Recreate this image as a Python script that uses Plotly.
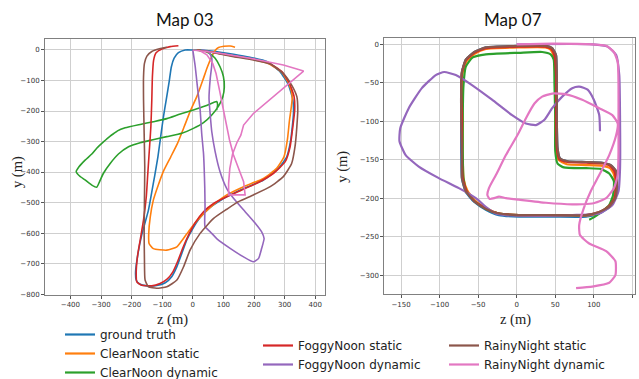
import plotly.graph_objects as go

# ---------------- data: Map 03 (z, y in metres) ----------------
m03_gt_z = [0,-25,-47,-61,-70,-78,-87,-96,-105,-114,-125,-134,-145,-167,-178,-187,-185,-174,-150,-118,-90,-69,-52,-36,-20,0,24,57,95,133,176,231,280,307,320,329,327,313,285,242,187,133,68,24,0]
m03_gt_y = [0,0,-9,-27,-55,-109,-164,-219,-284,-350,-415,-465,-525,-607,-661,-727,-754,-767,-773,-772,-763,-743,-710,-667,-623,-585,-549,-516,-490,-470,-450,-426,-388,-350,-295,-208,-164,-115,-71,-38,-24,-14,-4,0,0]

m03_cs_z = [138,122,102,84,73,62,48,33,13,-7,-28,-50,-72,-94,-113,-129,-139,-144,-143,-129,-85,-52,-20,13,57,111,166,231,274,298,309,316,322,325,316,291,247,198,133,68,13]
m03_cs_y = [9,13,12,8,-2,-22,-55,-98,-153,-197,-251,-306,-350,-393,-443,-492,-547,-601,-634,-651,-656,-645,-603,-560,-516,-475,-448,-421,-388,-350,-295,-230,-186,-153,-115,-74,-44,-31,-20,-8,0]

m03_cd_z = [0,29,54,73,89,100,103,98,84,62,35,2,-36,-85,-134,-172,-210,-243,-270,-292,-305,-314,-330,-352,-370,-381,-372,-352,-330,-314,-292,-270,-254,-246,-221,-172,-129,-85,-41,2,40,68,78,81,78]
m03_cd_y = [0,-2,-11,-27,-55,-87,-122,-153,-184,-213,-238,-257,-273,-284,-295,-304,-317,-341,-372,-404,-432,-450,-443,-426,-413,-399,-383,-361,-341,-322,-301,-282,-271,-265,-255,-244,-235,-225,-210,-197,-184,-172,-169,-180,-197]

m03_fs_z = [-47,-74,-101,-120,-128,-132,-134,-137,-142,-147,-152,-161,-172,-181,-185,-183,-167,-134,-107,-85,-65,-50,-33,-14,8,35,68,111,155,209,264,302,318,327,333,331,316,291,247,198,133,68,13]
m03_fs_y = [14,11,3,-9,-33,-87,-164,-251,-328,-404,-481,-557,-623,-678,-732,-760,-771,-773,-765,-752,-727,-694,-650,-607,-566,-530,-503,-481,-461,-437,-404,-366,-317,-251,-197,-153,-109,-71,-42,-30,-19,-8,0]

m03_fd_z = [0,8,15,24,29,35,37,39,40,40,57,78,122,166,198,215,225,233,225,204,171,133,111,89,73,62,57,53,57,62,62,51,29]
m03_fd_y = [0,-55,-120,-197,-273,-339,-383,-448,-514,-579,-596,-618,-650,-678,-694,-683,-650,-618,-596,-568,-530,-486,-454,-399,-333,-268,-213,-158,-93,-49,-27,-5,0]

m03_rs_z = [-85,-109,-134,-150,-158,-161,-161,-159,-157,-158,-159,-158,-156,-145,-118,-85,-52,-30,-9,24,68,111,149,198,253,296,323,334,340,343,340,323,296,253,198,133,68,13]
m03_rs_y = [9,4,-5,-20,-44,-87,-164,-273,-383,-492,-601,-689,-754,-776,-781,-776,-754,-710,-656,-601,-552,-522,-497,-475,-448,-415,-372,-317,-251,-197,-153,-115,-77,-46,-33,-22,-9,0]

m03_rd_z = [0,78,187,296,362,307,242,198,166,157,144,130,121,117,117,171,166,149,133,120,109,98,87,76,65,46,24]
m03_rd_y = [0,-9,-27,-49,-69,-115,-169,-208,-246,-279,-304,-341,-388,-437,-475,-475,-432,-383,-344,-295,-246,-186,-131,-77,-44,-16,-3]

# ---------------- data: Map 07 ----------------
m07_gt_z = [90,46,3,-23,-40,-55,-66,-71,-72,-72,-72,-71,-66,-55,-40,3,38,46,51,52,52,53,56,66,90,111,122,129,130,128,120,107,90]
m07_gt_y = [-224,-224,-224,-222,-215,-205,-192,-175,-139,-96,-57,-36,-20,-10,-4,-2,-2,-5,-14,-40,-96,-135,-148,-152,-153,-154,-157,-165,-183,-200,-212,-220,-224]

m07_cs_z = [95,46,3,-23,-39,-54,-64,-69,-70,-70,-71,-70,-65,-54,-40,3,37,44,48,50,50,51,54,65,90,111,121,126,128,126,119,107,95]
m07_cs_y = [-222,-222,-222,-220,-213,-203,-190,-174,-139,-96,-57,-37,-22,-12,-6,-4,-4,-7,-16,-40,-96,-135,-150,-156,-157,-158,-161,-169,-183,-200,-211,-219,-222]

m07_cd_z = [90,46,3,-23,-40,-55,-65,-69,-70,-70,-69,-66,-57,-40,3,33,44,48,49,50,50,53,61,90,109,120,126,125,120,111,100,94]
m07_cd_y = [-222,-222,-222,-220,-214,-204,-191,-174,-139,-96,-53,-29,-17,-13,-11,-10,-13,-20,-53,-96,-139,-155,-160,-161,-162,-168,-178,-196,-209,-217,-225,-228]

m07_fs_z = [90,46,3,-23,-39,-55,-65,-70,-71,-71,-72,-71,-66,-55,-40,3,37,45,49,51,51,52,55,66,90,111,121,127,129,127,119,107,90]
m07_fs_y = [-222,-222,-222,-220,-214,-204,-191,-174,-139,-96,-57,-36,-21,-11,-5,-3,-3,-6,-15,-40,-96,-135,-149,-153,-154,-155,-158,-166,-183,-200,-211,-218,-222]

m07_fd_z = [0,98,118,129,133,134,134,132,124,107,72,25,-14,-27,-38,-53,-75,-101,-127,-144,-152,-151,-140,-123,-105,-94,-79,-58,-32,-6,12,25,36,46,59,72,81,92,100,107,108]
m07_fd_y = [0,0,-3,-14,-40,-96,-161,-191,-209,-220,-222,-223,-222,-220,-213,-200,-187,-174,-159,-144,-126,-109,-83,-57,-40,-36,-40,-53,-72,-92,-103,-105,-98,-83,-68,-57,-55,-59,-72,-92,-113]

m07_rs_z = [90,46,3,-23,-40,-55,-66,-71,-71,-72,-72,-71,-66,-55,-40,3,38,46,51,52,52,53,56,66,90,111,122,129,130,128,120,107,90]
m07_rs_y = [-222,-222,-222,-220,-214,-204,-191,-174,-139,-96,-57,-36,-20,-10,-4,-2,-2,-5,-14,-40,-96,-135,-148,-152,-153,-154,-157,-165,-183,-200,-211,-218,-222]

m07_rd_z = [0,46,98,116,126,131,132,132,132,131,126,116,98,72,38,3,-14,-23,-29,-35,-38,-36,-27,-14,1,12,23,33,46,64,85,107,124,131,129,120,107,96,87,81,82,94,116,128,128,120,98,77]
m07_rd_y = [0,1,0,-2,-10,-23,-53,-96,-139,-170,-187,-200,-207,-208,-206,-202,-200,-198,-200,-201,-196,-187,-170,-144,-118,-96,-77,-68,-64,-65,-72,-83,-92,-103,-118,-144,-170,-191,-213,-235,-248,-259,-269,-282,-300,-310,-315,-317]

series_names = ["ground truth", "ClearNoon static", "ClearNoon dynamic",
                "FoggyNoon static", "FoggyNoon dynamic",
                "RainyNight static", "RainyNight dynamic"]
series_colors = ["#1f77b4", "#ff7f0e", "#2ca02c", "#d62728", "#9467bd", "#8c564b", "#e377c2"]
series_legend = ["legend", "legend", "legend", "legend2", "legend2", "legend3", "legend3"]

map03 = [(m03_gt_z, m03_gt_y), (m03_cs_z, m03_cs_y), (m03_cd_z, m03_cd_y),
         (m03_fs_z, m03_fs_y), (m03_fd_z, m03_fd_y), (m03_rs_z, m03_rs_y), (m03_rd_z, m03_rd_y)]
map07 = [(m07_gt_z, m07_gt_y), (m07_cs_z, m07_cs_y), (m07_cd_z, m07_cd_y),
         (m07_fs_z, m07_fs_y), (m07_fd_z, m07_fd_y), (m07_rs_z, m07_rs_y), (m07_rd_z, m07_rd_y)]

m03_xticks = [-400, -300, -200, -100, 0, 100, 200, 300, 400]
m03_yticks = [0, -100, -200, -300, -400, -500, -600, -700, -800]
m07_xticks = [-150, -100, -50, 0, 50, 100, 150]
m07_yticks = [0, -50, -100, -150, -200, -250, -300]

W, H = 639, 379

fig = go.Figure()
for i, name in enumerate(series_names):
    z, y = map03[i]
    fig.add_trace(go.Scatter(
        x=z, y=y, mode="lines", name=name, xaxis="x", yaxis="y",
        line=dict(color=series_colors[i], width=1.6,
                  shape="linear" if name == "RainyNight dynamic" else "spline", smoothing=0.5),
        showlegend=False, legendgroup=name, hoverinfo="skip"))
for i, name in enumerate(series_names):
    z, y = map07[i]
    fig.add_trace(go.Scatter(
        x=z, y=y, mode="lines", name=name, xaxis="x2", yaxis="y2",
        line=dict(color=series_colors[i], width=2.2, shape="spline", smoothing=0.5),
        showlegend=True, legend=series_legend[i], legendgroup=name, hoverinfo="skip"))

tickfont = dict(family="DejaVu Sans", size=7, color="#333333")
axis_common = dict(showgrid=True, gridcolor="#cfcfcf", gridwidth=1, zeroline=False,
                   showline=True, mirror=True, linecolor="#808080", linewidth=1,
                   ticks="outside", ticklen=3, tickwidth=1, tickcolor="#555555",
                   tickfont=tickfont, fixedrange=True, automargin=False)

legend_font = dict(family="DejaVu Sans", size=12, color="#222222")
legend_common = dict(xref="container", yref="container", xanchor="left", yanchor="top",
                     bgcolor="rgba(0,0,0,0)", font=legend_font, tracegroupgap=0)

fig.update_layout(
    width=W, height=H,
    margin=dict(l=0, r=0, t=0, b=0, autoexpand=False),
    paper_bgcolor="white", plot_bgcolor="white",
    xaxis=dict(axis_common, domain=[45/W, 325/W], range=[-483, 432], tickvals=m03_xticks, anchor="y"),
    yaxis=dict(axis_common, domain=[1-295/H, 1-39.3/H], range=[-803, 35], tickvals=m03_yticks, anchor="x"),
    xaxis2=dict(axis_common, domain=[384.3/W, 635/W], range=[-171.7, 153.4], tickvals=m07_xticks, anchor="y2"),
    yaxis2=dict(axis_common, domain=[1-294.3/H, 1-37.7/H], range=[-325, 8.6], tickvals=m07_yticks, anchor="x2"),
    legend=dict(legend_common, x=60/W, y=1-320/H),
    legend2=dict(legend_common, x=258/W, y=1-331/H),
    legend3=dict(legend_common, x=444/W, y=1-331/H),
    annotations=[
        dict(text="Map 03", x=185/W, y=1-20/H, xref="paper", yref="paper", showarrow=False,
             xanchor="center", yanchor="middle", font=dict(family="Lato", size=17, color="#111")),
        dict(text="Map 07", x=513/W, y=1-20/H, xref="paper", yref="paper", showarrow=False,
             xanchor="center", yanchor="middle", font=dict(family="Lato", size=17, color="#111")),
        dict(text="z (m)", x=172/W, y=1-319/H, xref="paper", yref="paper", showarrow=False,
             xanchor="center", yanchor="middle", font=dict(family="Liberation Serif", size=14.5, color="#222")),
        dict(text="z (m)", x=515/W, y=1-319/H, xref="paper", yref="paper", showarrow=False,
             xanchor="center", yanchor="middle", font=dict(family="Liberation Serif", size=14.5, color="#222")),
        dict(text="y (m)", x=18/W, y=1-172/H, xref="paper", yref="paper", showarrow=False, textangle=-90,
             xanchor="center", yanchor="middle", font=dict(family="Liberation Serif", size=14.5, color="#222")),
        dict(text="y (m)", x=341.7/W, y=1-167/H, xref="paper", yref="paper", showarrow=False, textangle=-90,
             xanchor="center", yanchor="middle", font=dict(family="Liberation Serif", size=14.5, color="#222")),
    ],
)

fig.write_html("out.html", config={"displayModeBar": False},
               post_script="document.body.style.margin='0';document.body.style.overflow='hidden';")
